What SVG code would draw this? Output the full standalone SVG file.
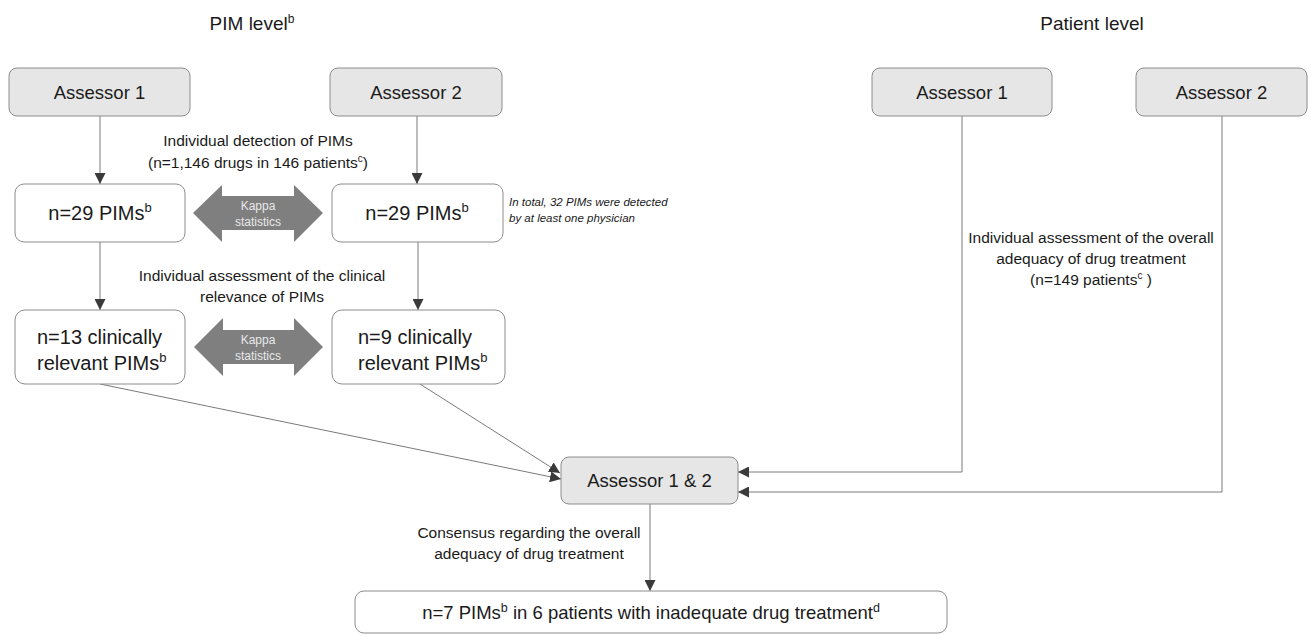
<svg xmlns="http://www.w3.org/2000/svg" width="1312" height="634" viewBox="0 0 1312 634">
  <defs>
    <style>
      text { font-family: "Liberation Sans", Arial, sans-serif; fill: #1a1a1a; }
      .title { font-size: 19px; text-anchor: middle; }
      .box-gray { fill: #e6e6e6; stroke: #8c8c8c; stroke-width: 1; }
      .box-white { fill: #ffffff; stroke: #8c8c8c; stroke-width: 1; }
      .btxt { font-size: 18.5px; text-anchor: middle; }
      .ntxt { font-size: 20px; }
      .lbl { font-size: 15.5px; text-anchor: middle; }
      .note { font-size: 11.5px; font-style: italic; }
      .kappa { fill: #7f7f7f; }
      .ktxt { font-size: 12px; fill: #e8e8e8; text-anchor: middle; }
      .conn { fill: none; stroke: #7a7a7a; stroke-width: 1; }
      .arrow { marker-end: url(#ah); }
    </style>
    <marker id="ah" viewBox="0 0 10 10" refX="10" refY="5" markerWidth="11" markerHeight="11" markerUnits="userSpaceOnUse" orient="auto">
      <path d="M0,0 L10,5 L0,10 z" fill="#3a3a3a"/>
    </marker>
  </defs>

  <text class="title" x="252" y="30">PIM level<tspan dy="-7" font-size="12">b</tspan></text>
  <text class="title" x="1092" y="30">Patient level</text>

  <g id="connectors">
    <line class="conn arrow" x1="100" y1="116" x2="100" y2="184"/>
    <line class="conn arrow" x1="417" y1="116" x2="417" y2="184"/>
    <line class="conn arrow" x1="100" y1="242" x2="100" y2="310"/>
    <line class="conn arrow" x1="418" y1="242" x2="418" y2="310"/>
    <line class="conn arrow" x1="100" y1="384" x2="561" y2="479"/>
    <line class="conn arrow" x1="420" y1="384" x2="560" y2="473"/>
    <polyline class="conn arrow" points="962,116 962,472 738,472"/>
    <polyline class="conn arrow" points="1222,116 1222,492 738,492"/>
    <line class="conn arrow" x1="650" y1="504" x2="650" y2="591"/>
  </g>

  <g id="pim-assessor1">
    <rect class="box-gray" x="9" y="68" width="181" height="48" rx="8"/>
    <text class="btxt" x="99.5" y="99">Assessor 1</text>
  </g>
  <g id="pim-assessor2">
    <rect class="box-gray" x="330" y="68" width="172" height="48" rx="8"/>
    <text class="btxt" x="416" y="99">Assessor 2</text>
  </g>
  <g id="pt-assessor1">
    <rect class="box-gray" x="872" y="68" width="180" height="48" rx="8"/>
    <text class="btxt" x="962" y="99">Assessor 1</text>
  </g>
  <g id="pt-assessor2">
    <rect class="box-gray" x="1136" y="68" width="171" height="48" rx="8"/>
    <text class="btxt" x="1221.5" y="99">Assessor 2</text>
  </g>

  <g id="n29-left">
    <rect class="box-white" x="15" y="184" width="170" height="58" rx="9"/>
    <text class="ntxt" x="100" y="220" text-anchor="middle">n=29 PIMs<tspan dy="-8" font-size="13">b</tspan></text>
  </g>
  <g id="n29-right">
    <rect class="box-white" x="332" y="184" width="171" height="58" rx="9"/>
    <text class="ntxt" x="417" y="220" text-anchor="middle">n=29 PIMs<tspan dy="-8" font-size="13">b</tspan></text>
  </g>

  <g id="kappa1">
    <polygon class="kappa" points="193,213 222,185 222,196 294,196 294,185 323,213 294,242 294,230 222,230 222,242"/>
    <text class="ktxt" x="258" y="210">Kappa</text>
    <text class="ktxt" x="258" y="226">statistics</text>
  </g>

  <text class="lbl" x="258" y="146">Individual detection of PIMs</text>
  <text class="lbl" x="258" y="168">(n=1,146 drugs in 146 patients<tspan dy="-6" font-size="10">c</tspan><tspan dy="6">)</tspan></text>

  <text class="note" x="509" y="206">In total, 32 PIMs were detected</text>
  <text class="note" x="509" y="222">by at least one physician</text>

  <text class="lbl" x="262" y="281">Individual assessment of the clinical</text>
  <text class="lbl" x="262" y="302">relevance of PIMs</text>

  <g id="n13-left">
    <rect class="box-white" x="15" y="310" width="170" height="74" rx="10"/>
    <text class="ntxt" x="37" y="344">n=13 clinically</text>
    <text class="ntxt" x="37" y="370">relevant PIMs<tspan dy="-8" font-size="13">b</tspan></text>
  </g>
  <g id="n9-right">
    <rect class="box-white" x="332" y="310" width="173" height="74" rx="10"/>
    <text class="ntxt" x="358" y="344">n=9 clinically</text>
    <text class="ntxt" x="358" y="370">relevant PIMs<tspan dy="-8" font-size="13">b</tspan></text>
  </g>

  <g id="kappa2">
    <polygon class="kappa" points="194,347 223,318 223,330 294,330 294,318 323,347 294,376 294,364 223,364 223,376"/>
    <text class="ktxt" x="258" y="344">Kappa</text>
    <text class="ktxt" x="258" y="360">statistics</text>
  </g>

  <text class="lbl" x="1091" y="243">Individual assessment of the overall</text>
  <text class="lbl" x="1091" y="264">adequacy of drug treatment</text>
  <text class="lbl" x="1091" y="285">(n=149 patients<tspan dy="-6" font-size="10">c</tspan><tspan dy="6"> )</tspan></text>

  <g id="assessor12">
    <rect class="box-gray" x="561" y="457" width="177" height="47" rx="8"/>
    <text class="btxt" x="649.5" y="487">Assessor 1 &amp; 2</text>
  </g>

  <text class="lbl" x="529" y="538">Consensus regarding the overall</text>
  <text class="lbl" x="529" y="559">adequacy of drug treatment</text>

  <g id="result">
    <rect class="box-white" x="355" y="591" width="592" height="42" rx="9"/>
    <text class="btxt" x="651" y="619" font-size="19.5">n=7 PIMs<tspan dy="-7" font-size="12.5">b</tspan><tspan dy="7"> in 6 patients with inadequate drug treatment</tspan><tspan dy="-7" font-size="12.5">d</tspan></text>
  </g>
</svg>
